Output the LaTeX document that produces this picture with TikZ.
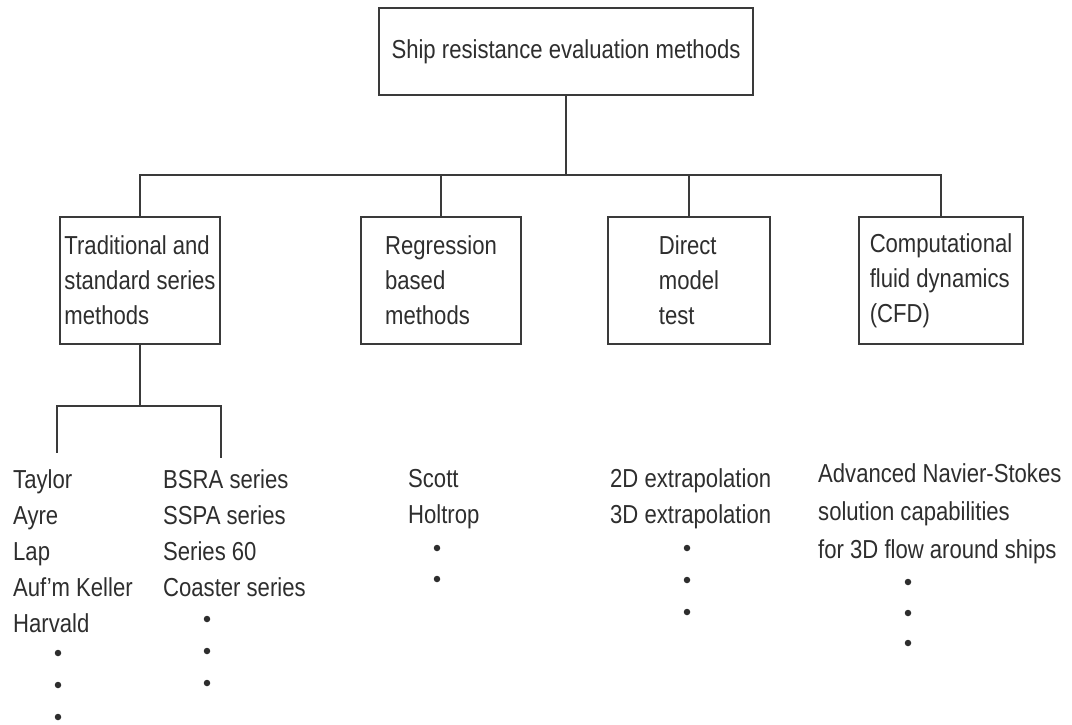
\documentclass[tikz,border=0pt]{standalone}
\usepackage{fontspec}
\setmainfont{Liberation Sans}[FakeStretch=0.85]
\definecolor{ink}{HTML}{3A3A3A}
\definecolor{txt}{HTML}{2E2E2E}
\begin{document}
\begin{tikzpicture}[x=1pt,y=-1pt,
  box/.style={draw=ink, line width=2.2pt, align=left, inner sep=0pt,
    font=\fontsize{26}{35}\selectfont, text=txt},
  item/.style={anchor=base west, inner sep=0pt, font=\fontsize{26}{31}\selectfont, text=txt},
  dot/.style={circle, fill=txt, inner sep=0pt, minimum size=6.5pt},
  link/.style={draw=ink, line width=2.2pt}]
\useasboundingbox[fill=white] (0,0) rectangle (1072,724);

% boxes
\node[box, minimum width=374pt, minimum height=87pt] (top) at (566,51.5) {Ship resistance evaluation methods};
\node[box, minimum width=160pt, minimum height=127pt] (b1) at (140,280.5) {Traditional and\\standard series\\methods};
\node[box, minimum width=160pt, minimum height=127pt] (b2) at (441,280.5) {Regression\\based\\methods};
\node[box, minimum width=162pt, minimum height=127pt] (b3) at (689,280.5) {Direct\\model\\test};
\node[box, minimum width=164pt, minimum height=127pt] (b4) at (941,280.5) {Computational\\fluid dynamics\\(CFD)};

% bus coordinates
\coordinate (bus) at (0,175);
\coordinate (sub) at (0,406);
\coordinate (l1) at (57,453);
\coordinate (l2) at (221,458);

\draw[link] (top.south) -- (top.south |- bus) -| (b1.north);
\draw[link] (top.south |- bus) -| (b2.north);
\draw[link] (top.south |- bus) -| (b3.north);
\draw[link] (top.south |- bus) -| (b4.north);
\draw[link] (b1.south) -- (b1.south |- sub) -| (l1);
\draw[link] (b1.south |- sub) -| (l2);

% column 1
\node[item] (c1a) at (13,488) {Taylor};
\node[item] (c1b) at (13,524) {Ayre};
\node[item] (c1c) at (13,560) {Lap};
\node[item] (c1d) at (13,596) {Auf’m Keller};
\node[item] (c1e) at (13,632) {Harvald};
\node[dot] (d1a) at (58,653) {};
\node[dot] (d1b) at (58,685) {};
\node[dot] (d1c) at (58,717) {};

% column 2
\node[item] (c2a) at (163,488) {BSRA series};
\node[item] (c2b) at (163,524) {SSPA series};
\node[item] (c2c) at (163,560) {Series 60};
\node[item] (c2d) at (163,596) {Coaster series};
\node[dot] (d2a) at (207,619) {};
\node[dot] (d2b) at (207,651) {};
\node[dot] (d2c) at (207,683) {};

% column 3
\node[item] (c3a) at (408,487) {Scott};
\node[item] (c3b) at (408,523) {Holtrop};
\node[dot] (d3a) at (437,548) {};
\node[dot] (d3b) at (437,579) {};

% column 4
\node[item] (c4a) at (610,487) {2D extrapolation};
\node[item] (c4b) at (610,523) {3D extrapolation};
\node[dot] (d4a) at (687,548) {};
\node[dot] (d4b) at (687,580) {};
\node[dot] (d4c) at (687,612) {};

% column 5
\node[item] (c5a) at (818,482) {Advanced Navier-Stokes};
\node[item] (c5b) at (818,520) {solution capabilities};
\node[item] (c5c) at (818,558) {for 3D flow around ships};
\node[dot] (d5a) at (908,582) {};
\node[dot] (d5b) at (908,613) {};
\node[dot] (d5c) at (908,643) {};
\end{tikzpicture}
\end{document}
